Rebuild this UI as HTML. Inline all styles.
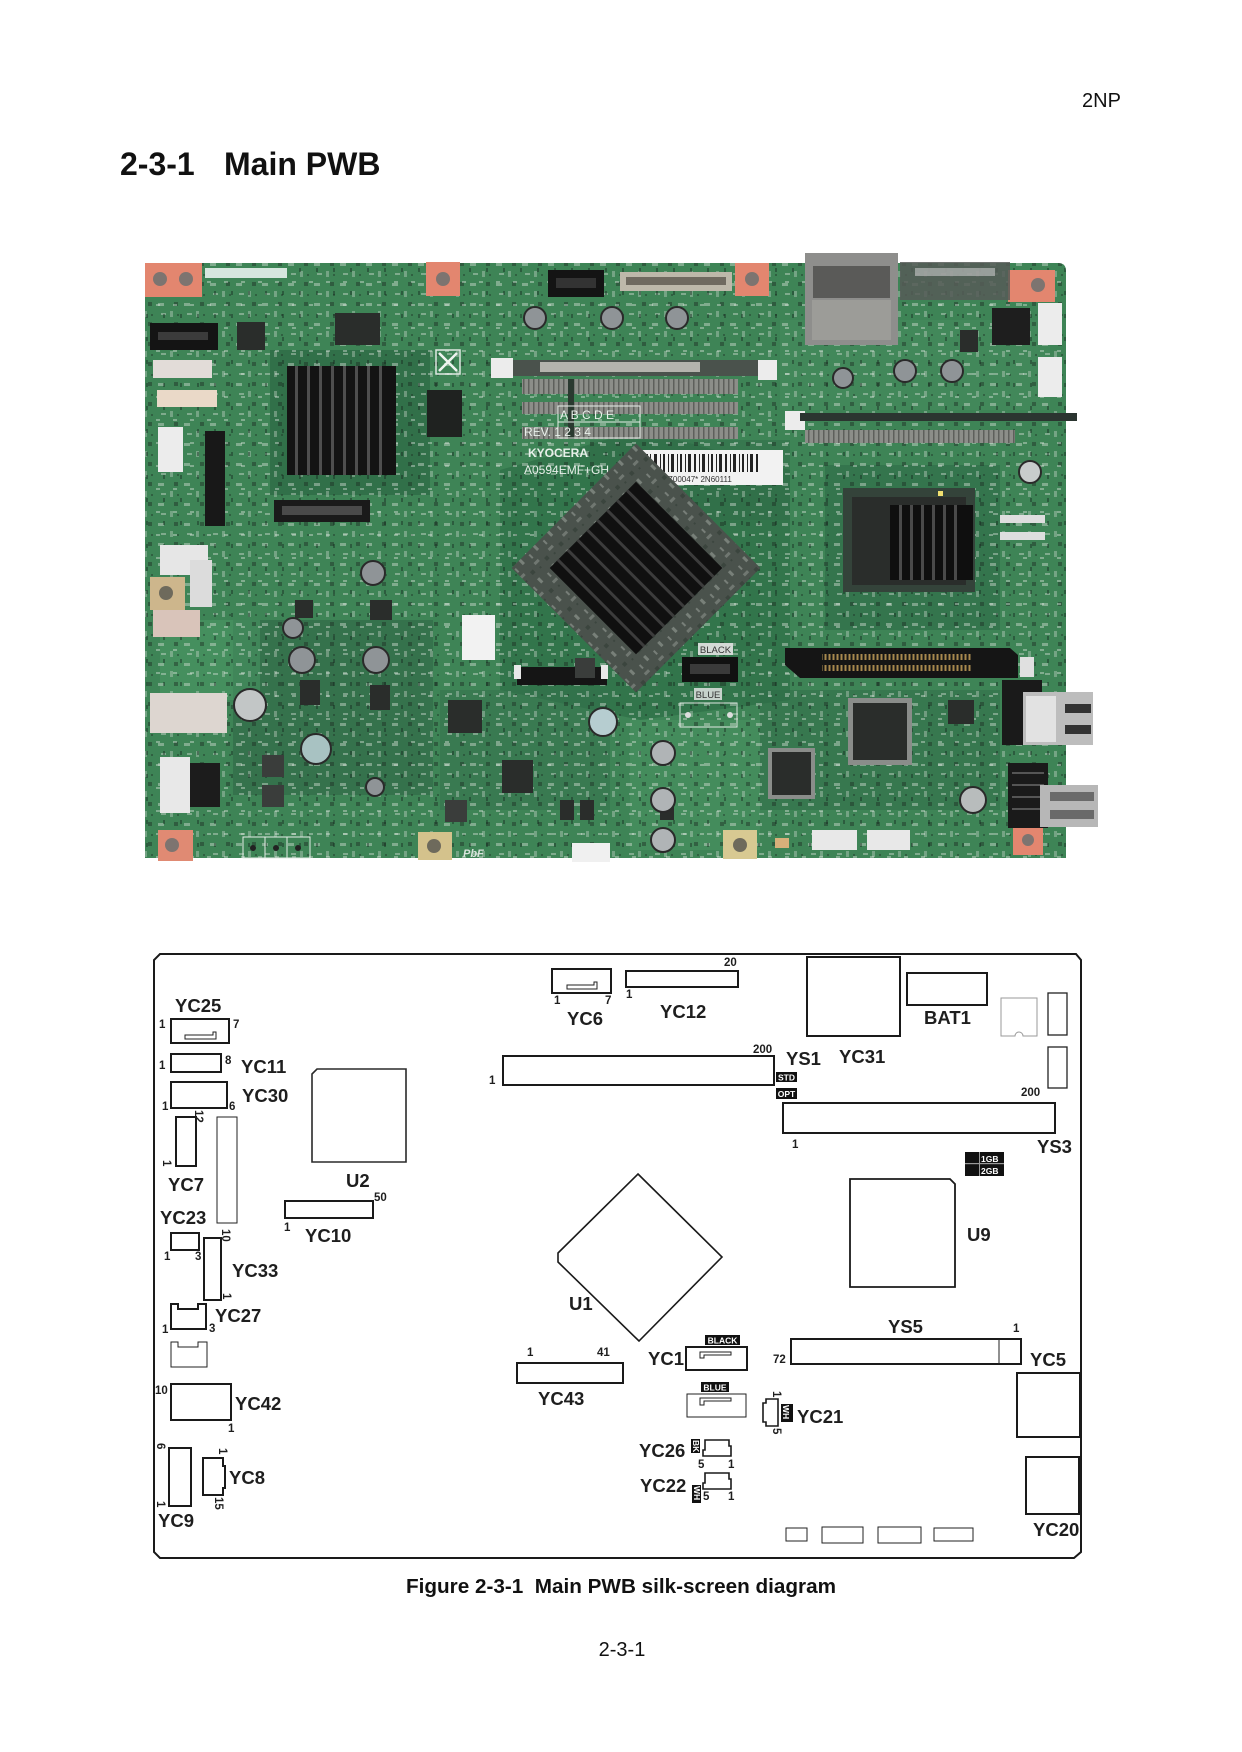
<!DOCTYPE html>
<html><head><meta charset="utf-8"><title>2-3-1 Main PWB</title>
<style>
html,body{margin:0;padding:0;background:#fff;}
body{width:1242px;height:1752px;overflow:hidden;}
svg{display:block;}
</style></head>
<body>
<svg width="1242" height="1752" viewBox="0 0 1242 1752" xmlns="http://www.w3.org/2000/svg" font-family="'Liberation Sans', Arial, Helvetica, sans-serif">
<style>
.L{font-size:18.5px;font-weight:bold;fill:#1e1e1e}
.n{font-size:11.5px;font-weight:bold;fill:#1e1e1e}
.k{fill:none;stroke:#1a1a1a;stroke-width:2}
.t{fill:none;stroke:#222;stroke-width:1}
.bw{font-size:8.5px;font-weight:bold;fill:#fff}
.silk{font-size:12px;fill:#e8f0ea}
</style>
<defs>
<pattern id="smd" width="26" height="20" patternUnits="userSpaceOnUse">
 <rect x="2" y="3" width="6" height="3" fill="#d5ddd5" opacity=".55"/>
 <rect x="14" y="11" width="3" height="6" fill="#d5ddd5" opacity=".45"/>
 <rect x="18" y="2" width="4" height="4" fill="#1b2a21" opacity=".55"/>
 <rect x="5" y="13" width="5" height="2" fill="#e0e6e0" opacity=".5"/>
 <rect x="21" y="14" width="2" height="2" fill="#1b2a21" opacity=".5"/>
</pattern>
<pattern id="smd2" width="17" height="23" patternUnits="userSpaceOnUse">
 <rect x="3" y="5" width="4" height="2" fill="#e6ece6" opacity=".5"/>
 <rect x="10" y="15" width="2" height="4" fill="#12201a" opacity=".5"/>
</pattern>
<pattern id="pins" width="4" height="6" patternUnits="userSpaceOnUse">
 <rect x="0.5" y="0" width="2" height="6" fill="#a8894e"/>
</pattern>
<pattern id="dimm" width="5" height="12" patternUnits="userSpaceOnUse">
 <rect width="5" height="12" fill="#8c8e89"/>
 <rect x="3" width="1.5" height="12" fill="#5e605c"/>
</pattern>
</defs>

<!-- Header -->
<text x="1082" y="107" font-size="20" fill="#111">2NP</text>
<text x="120" y="175" font-size="32" font-weight="bold" fill="#111">2-3-1</text>
<text x="224" y="175" font-size="32" font-weight="bold" fill="#111">Main PWB</text>

<!-- ================= PHOTO ================= -->
<g id="photo">
 <path d="M145,263 H1058 Q1066,263 1066,271 V858 H145 Z" fill="#3e8456"/>
 <rect x="270" y="350" width="160" height="145" fill="#2c6844" opacity=".7"/>
 <polygon points="500,470 640,430 790,470 790,700 640,720 500,690" fill="#2c6a45" opacity=".6"/>
 <rect x="825" y="465" width="175" height="165" fill="#2e6a47" opacity=".6"/>
 <rect x="233" y="620" width="200" height="175" fill="#2d6545" opacity=".55"/>
 <rect x="590" y="440" width="200" height="80" fill="#2f6c48" opacity=".5"/>
 <rect x="760" y="690" width="240" height="120" fill="#2f6b48" opacity=".45"/>
 <rect x="440" y="690" width="170" height="120" fill="#326e4b" opacity=".45"/>
 <rect x="160" y="620" width="100" height="80" fill="#4c9a66" opacity=".5"/>
 <rect x="630" y="720" width="130" height="130" fill="#4b9664" opacity=".45"/>
 <rect x="780" y="320" width="270" height="90" fill="#468f5f" opacity=".45"/>
 <path d="M145,263 H1058 Q1066,263 1066,271 V858 H145 Z" fill="url(#smd)" opacity=".8"/>
 <path d="M145,263 H1058 Q1066,263 1066,271 V858 H145 Z" fill="url(#smd2)" opacity=".8"/>

 <g>
  <rect x="145" y="263" width="57" height="34" fill="#e3866f"/>
  <circle cx="160" cy="279" r="7" fill="#7d7470"/><circle cx="186" cy="279" r="7" fill="#7d7470"/>
  <rect x="426" y="262" width="34" height="34" fill="#e3866f"/><circle cx="443" cy="279" r="7" fill="#7d7470"/>
  <rect x="735" y="263" width="34" height="33" fill="#e3866f"/><circle cx="752" cy="279" r="7" fill="#7d7470"/>
  <rect x="1008" y="270" width="47" height="32" fill="#e3866f"/><circle cx="1038" cy="285" r="7" fill="#7d7470"/>
  <rect x="150" y="577" width="35" height="33" fill="#cdb68c"/><circle cx="166" cy="593" r="7" fill="#6e6a5c"/>
  <rect x="158" y="830" width="35" height="31" fill="#e08a73"/><circle cx="172" cy="845" r="7" fill="#7d7470"/>
  <rect x="418" y="832" width="34" height="28" fill="#d4c28c"/><circle cx="434" cy="846" r="7" fill="#6e6a5c"/>
  <rect x="723" y="830" width="34" height="29" fill="#d8c992"/><circle cx="740" cy="845" r="7" fill="#6e6a5c"/>
  <rect x="1013" y="825" width="30" height="30" fill="#e3866f"/><circle cx="1028" cy="840" r="6" fill="#7d7470"/>
 </g>

 <rect x="205" y="268" width="82" height="10" fill="#d6e6de"/>
 <rect x="548" y="270" width="56" height="27" fill="#141414"/><rect x="556" y="278" width="40" height="10" fill="#333"/>
 <rect x="620" y="272" width="112" height="19" fill="#bdb8aa"/><rect x="626" y="277" width="100" height="8" fill="#6f6a60"/>
 <rect x="805" y="253" width="93" height="92" fill="#8e8e8c"/>
 <rect x="813" y="266" width="77" height="32" fill="#5a5a58"/>
 <rect x="812" y="300" width="79" height="40" fill="#9c9c98"/>
 <rect x="900" y="262" width="110" height="38" fill="#565a57" opacity=".85"/>
 <rect x="915" y="268" width="80" height="8" fill="#c8c8c8" opacity=".6"/>
 <rect x="1038" y="303" width="24" height="42" fill="#ececec"/>
 <rect x="1038" y="357" width="24" height="40" fill="#ececec"/>
 <rect x="992" y="308" width="38" height="37" fill="#1e1e1e"/>
 <rect x="150" y="323" width="68" height="27" fill="#141414"/><rect x="158" y="332" width="50" height="8" fill="#3b3b3b"/>
 <rect x="153" y="360" width="59" height="18" fill="#e2dcd8"/>
 <rect x="157" y="390" width="60" height="17" fill="#ead9c8"/>
 <rect x="158" y="427" width="25" height="45" fill="#ececec"/>
 <rect x="205" y="431" width="20" height="95" fill="#181818"/>
 <rect x="160" y="545" width="48" height="30" fill="#e6e6e6"/>
 <rect x="190" y="560" width="22" height="47" fill="#dcdcdc"/>
 <rect x="153" y="610" width="47" height="27" fill="#d9c4ba"/>
 <rect x="150" y="693" width="77" height="40" fill="#ddd6d0"/>
 <rect x="160" y="757" width="30" height="56" fill="#e8e8e8"/>
 <rect x="190" y="763" width="30" height="44" fill="#1c1c1c"/>
 <rect x="287" y="366" width="109" height="109" fill="#131313"/>
 <g fill="#4e4e4e">
  <rect x="295" y="366" width="3" height="109"/><rect x="307" y="366" width="3" height="109"/>
  <rect x="319" y="366" width="3" height="109"/><rect x="331" y="366" width="3" height="109"/>
  <rect x="343" y="366" width="3" height="109"/><rect x="355" y="366" width="3" height="109"/>
  <rect x="367" y="366" width="3" height="109"/><rect x="379" y="366" width="3" height="109"/>
 </g>
 <rect x="274" y="500" width="96" height="22" fill="#1a1a1a"/><rect x="282" y="506" width="80" height="9" fill="#4a4a4a"/>
 <rect x="335" y="313" width="45" height="32" fill="#2a2d2b"/>
 <rect x="427" y="390" width="35" height="47" fill="#1f2220"/>
 <rect x="237" y="322" width="28" height="28" fill="#2a2d2b"/>
 <rect x="448" y="700" width="34" height="33" fill="#2a2d2b"/>
 <rect x="502" y="760" width="31" height="33" fill="#2a2d2b"/>
 <rect x="848" y="698" width="64" height="67" fill="#8a8d8a"/><rect x="853" y="703" width="54" height="57" fill="#2a2d2b"/>
 <rect x="768" y="748" width="47" height="51" fill="#8a8d8a"/><rect x="772" y="752" width="39" height="43" fill="#2a2d2b"/>
 <rect x="948" y="700" width="26" height="24" fill="#2a2d2b"/>
 <rect x="295" y="600" width="18" height="18" fill="#2a2d2b"/>
 <rect x="370" y="600" width="22" height="20" fill="#2a2d2b"/>
 <rect x="300" y="680" width="20" height="25" fill="#2a2d2b"/>
 <rect x="370" y="685" width="20" height="25" fill="#2a2d2b"/>
 <rect x="560" y="800" width="14" height="20" fill="#2a2d2b"/>
 <rect x="580" y="800" width="14" height="20" fill="#2a2d2b"/>
 <rect x="660" y="800" width="14" height="20" fill="#2a2d2b"/>
 <rect x="960" y="330" width="18" height="22" fill="#2a2d2b"/>
 <rect x="491" y="358" width="22" height="20" fill="#ececec"/>
 <rect x="513" y="360" width="245" height="16" fill="#4a524c"/>
 <rect x="540" y="362" width="160" height="10" fill="#b4b4ad"/>
 <rect x="758" y="360" width="19" height="20" fill="#ececec"/>
 <rect x="522" y="379" width="216" height="15" fill="url(#dimm)"/>
 <rect x="522" y="402" width="216" height="12" fill="url(#dimm)"/>
 <rect x="522" y="427" width="216" height="12" fill="url(#dimm)"/>
 <rect x="568" y="379" width="6" height="60" fill="#2a3a30"/>
 <rect x="785" y="411" width="20" height="19" fill="#ececec"/>
 <rect x="800" y="413" width="277" height="8" fill="#2b3530"/>
 <rect x="805" y="430" width="210" height="13" fill="url(#dimm)"/>
 <g fill="none" stroke="#e6eee8" stroke-width="1">
  <rect x="558" y="406" width="82" height="16"/><rect x="558" y="422" width="82" height="16"/>
 </g>
 <text x="560" y="419" class="silk" font-size="12">A B C D E</text>
 <text x="524" y="436" class="silk">REV. 1 2 3 4</text>
 <text x="528" y="457" class="silk" font-weight="bold">KYOCERA</text>
 <text x="524" y="474" class="silk">A0594EMF+GH</text>
 <rect x="637" y="450" width="146" height="35" fill="#f2f2f2"/>
 <g fill="#222">
  <rect x="646" y="454" width="2" height="18"/><rect x="650" y="454" width="1" height="18"/><rect x="654" y="454" width="3" height="18"/>
  <rect x="660" y="454" width="1" height="18"/><rect x="663" y="454" width="2" height="18"/><rect x="668" y="454" width="1" height="18"/>
  <rect x="671" y="454" width="3" height="18"/><rect x="677" y="454" width="1" height="18"/><rect x="680" y="454" width="2" height="18"/>
  <rect x="685" y="454" width="1" height="18"/><rect x="688" y="454" width="3" height="18"/><rect x="694" y="454" width="2" height="18"/>
  <rect x="699" y="454" width="1" height="18"/><rect x="702" y="454" width="3" height="18"/><rect x="708" y="454" width="1" height="18"/>
  <rect x="711" y="454" width="2" height="18"/><rect x="716" y="454" width="1" height="18"/><rect x="719" y="454" width="3" height="18"/>
  <rect x="725" y="454" width="2" height="18"/><rect x="730" y="454" width="1" height="18"/><rect x="733" y="454" width="3" height="18"/>
  <rect x="739" y="454" width="1" height="18"/><rect x="742" y="454" width="2" height="18"/><rect x="747" y="454" width="1" height="18"/>
  <rect x="750" y="454" width="3" height="18"/><rect x="756" y="454" width="2" height="18"/>
 </g>
 <text x="640" y="482" font-size="8" fill="#333">*MJV00Z00047* 2N60111</text>
 <g transform="rotate(45 636 568)">
  <rect x="548" y="480" width="176" height="176" fill="#4a524c"/>
  <rect x="548" y="480" width="176" height="176" fill="url(#smd)" opacity=".6"/>
  <rect x="575" y="507" width="122" height="122" fill="#101010"/>
  <g fill="#3c3c3c">
   <rect x="575" y="518" width="122" height="3"/><rect x="575" y="532" width="122" height="3"/>
   <rect x="575" y="546" width="122" height="3"/><rect x="575" y="560" width="122" height="3"/>
   <rect x="575" y="574" width="122" height="3"/><rect x="575" y="588" width="122" height="3"/>
   <rect x="575" y="602" width="122" height="3"/><rect x="575" y="616" width="122" height="3"/>
  </g>
 </g>
 <rect x="843" y="488" width="132" height="104" fill="#34433a"/>
 <rect x="852" y="497" width="114" height="88" fill="#2a2d2b"/>
 <rect x="890" y="505" width="83" height="75" fill="#0f0f0f"/>
 <g fill="#4a4a4a">
  <rect x="899" y="505" width="3" height="75"/><rect x="910" y="505" width="3" height="75"/>
  <rect x="921" y="505" width="3" height="75"/><rect x="932" y="505" width="3" height="75"/>
  <rect x="943" y="505" width="3" height="75"/><rect x="954" y="505" width="3" height="75"/>
 </g>
 <rect x="938" y="491" width="5" height="5" fill="#f0e070"/>
 <rect x="1000" y="515" width="45" height="8" fill="#dedede"/>
 <rect x="1000" y="532" width="45" height="8" fill="#dedede"/>
 <rect x="462" y="615" width="33" height="45" fill="#f2f2f2"/>
 <rect x="517" y="667" width="90" height="18" fill="#151515"/>
 <rect x="514" y="665" width="7" height="14" fill="#e8e8e8"/><rect x="601" y="665" width="7" height="14" fill="#e8e8e8"/>
 <rect x="698" y="643" width="35" height="12" fill="#d4dad6"/>
 <text x="715.5" y="653" font-size="9.5" text-anchor="middle" fill="#333">BLACK</text>
 <rect x="682" y="657" width="56" height="25" fill="#111"/><rect x="690" y="664" width="40" height="10" fill="#3a3a3a"/>
 <rect x="694" y="688" width="28" height="12" fill="#c6d2cb"/>
 <text x="708" y="698" font-size="9.5" text-anchor="middle" fill="#333">BLUE</text>
 <rect x="680" y="703" width="57" height="24" fill="none" stroke="#dfe8e2" stroke-width="1"/>
 <circle cx="688" cy="715" r="3" fill="#ddd"/><circle cx="730" cy="715" r="3" fill="#ddd"/>
 <polygon points="785,648 1010,648 1018,655 1018,678 800,678 785,665" fill="#151515"/>
 <rect x="822" y="654" width="150" height="6" fill="url(#pins)"/>
 <rect x="822" y="665" width="150" height="6" fill="url(#pins)"/>
 <rect x="1020" y="657" width="14" height="20" fill="#e0e0e0"/>
 <rect x="1002" y="680" width="40" height="65" fill="#1a1a1a"/>
 <rect x="1023" y="692" width="70" height="53" fill="#bdbdbd"/>
 <rect x="1026" y="696" width="30" height="46" fill="#e2e2e2"/>
 <rect x="1065" y="704" width="26" height="9" fill="#333"/><rect x="1065" y="725" width="26" height="9" fill="#333"/>
 <rect x="1008" y="763" width="40" height="65" fill="#1a1a1a"/>
 <g fill="#555"><rect x="1012" y="772" width="32" height="2"/><rect x="1012" y="784" width="32" height="2"/><rect x="1012" y="796" width="32" height="2"/><rect x="1012" y="808" width="32" height="2"/></g>
 <rect x="1040" y="785" width="58" height="42" fill="#b7b7b7"/>
 <rect x="1050" y="792" width="44" height="9" fill="#6a6a6a"/><rect x="1050" y="810" width="44" height="9" fill="#6a6a6a"/>
 <g stroke="#2a2a2a" stroke-width="2">
  <circle cx="535" cy="318" r="11" fill="#8f9497"/><circle cx="612" cy="318" r="11" fill="#8f9497"/><circle cx="677" cy="318" r="11" fill="#8f9497"/>
  <circle cx="843" cy="378" r="10" fill="#8f9497"/><circle cx="905" cy="371" r="11" fill="#8f9497"/><circle cx="952" cy="371" r="11" fill="#8f9497"/>
  <circle cx="1030" cy="472" r="11" fill="#c8cccc"/>
  <circle cx="373" cy="573" r="12" fill="#8f9497"/><circle cx="293" cy="628" r="10" fill="#8f9497"/>
  <circle cx="302" cy="660" r="13" fill="#8f9497"/><circle cx="376" cy="660" r="13" fill="#8f9497"/>
  <circle cx="250" cy="705" r="16" fill="#c2c6c6"/><circle cx="316" cy="749" r="15" fill="#a8c2c2"/>
  <circle cx="375" cy="787" r="9" fill="#8f9497"/><circle cx="603" cy="722" r="14" fill="#b6cdd0"/>
  <circle cx="663" cy="753" r="12" fill="#b0b4b6"/><circle cx="663" cy="800" r="12" fill="#b0b4b6"/><circle cx="663" cy="840" r="12" fill="#b0b4b6"/>
  <circle cx="973" cy="800" r="13" fill="#b8bcbc"/>
 </g>
 <g fill="#3a3d3b"><rect x="262" y="755" width="22" height="22"/><rect x="262" y="785" width="22" height="22"/><rect x="445" y="800" width="22" height="22"/><rect x="575" y="658" width="20" height="20"/></g>
 <rect x="812" y="830" width="45" height="20" fill="#e8e8e8"/>
 <rect x="867" y="830" width="43" height="20" fill="#e8e8e8"/>
 <rect x="572" y="843" width="38" height="19" fill="#f0f0f0"/>
 <rect x="775" y="838" width="14" height="10" fill="#d8b07a"/>
 <g fill="none" stroke="#e4ece6" stroke-width="1"><rect x="243" y="837" width="22" height="21"/><rect x="265" y="837" width="22" height="21"/><rect x="287" y="837" width="23" height="21"/></g>
 <circle cx="253" cy="848" r="3" fill="#222"/><circle cx="276" cy="848" r="3" fill="#222"/><circle cx="298" cy="848" r="3" fill="#222"/>
 <text x="463" y="857" font-size="11" font-style="italic" font-weight="bold" fill="#d8e4dc">PbF</text>
 <rect x="436" y="350" width="24" height="24" fill="none" stroke="#dfe8e2" stroke-width="1.5"/>
 <path d="M439,353 L457,371 M457,353 L439,371" stroke="#eef3ef" stroke-width="2.5"/>
</g>

<!-- ================= DIAGRAM ================= -->
<path d="M160,954 H1076 L1081,960 V1552 L1074,1558 H160 L154,1552 V960 Z" fill="none" stroke="#1a1a1a" stroke-width="2"/>

<text class="L" x="175" y="1012">YC25</text>
<rect class="k" x="171" y="1019" width="58" height="24"/>
<polygon class="t" points="185,1035 213,1035 213,1032 216,1032 216,1039 185,1039"/>
<text class="n" x="159" y="1028">1</text><text class="n" x="233" y="1028">7</text>

<rect class="k" x="171" y="1054" width="50" height="18"/>
<text class="n" x="159" y="1069">1</text><text class="n" x="225" y="1064">8</text>
<text class="L" x="241" y="1073">YC11</text>

<rect class="k" x="171" y="1082" width="56" height="26"/>
<text class="n" x="162" y="1110">1</text><text class="n" x="229" y="1110">6</text>
<text class="L" x="242" y="1102">YC30</text>

<text class="n" transform="translate(195,1110) rotate(90)">12</text>
<rect class="k" x="176" y="1117" width="20" height="49"/>
<text class="n" transform="translate(163,1160) rotate(90)">1</text>
<text class="L" x="168" y="1191">YC7</text>
<rect class="t" x="217" y="1117" width="20" height="106"/>

<text class="L" x="160" y="1224">YC23</text>
<rect class="k" x="171" y="1233" width="28" height="17"/>
<text class="n" x="164" y="1260">1</text><text class="n" x="195" y="1260">3</text>

<rect class="k" x="204" y="1238" width="17" height="62"/>
<text class="n" transform="translate(222,1229) rotate(90)">10</text>
<text class="n" transform="translate(223,1293) rotate(90)">1</text>
<text class="L" x="232" y="1277">YC33</text>

<polygon class="k" points="171,1304 178,1304 178,1309 198,1309 198,1304 206,1304 206,1329 171,1329"/>
<text class="n" x="162" y="1333">1</text><text class="n" x="209" y="1332">3</text>
<text class="L" x="215" y="1322">YC27</text>
<polygon class="t" points="171,1342 178,1342 178,1347 198,1347 198,1342 207,1342 207,1367 171,1367"/>

<rect class="k" x="171" y="1384" width="60" height="36"/>
<text class="n" x="155" y="1394">10</text><text class="n" x="228" y="1432">1</text>
<text class="L" x="235" y="1410">YC42</text>

<rect class="k" x="169" y="1448" width="22" height="58"/>
<text class="n" transform="translate(157,1443) rotate(90)">6</text>
<text class="n" transform="translate(157,1501) rotate(90)">1</text>
<text class="L" x="158" y="1527">YC9</text>

<polygon class="k" points="203,1458 223,1458 223,1466 225,1466 225,1488 223,1488 223,1495 203,1495"/>
<text class="n" transform="translate(219,1448) rotate(90)">1</text>
<text class="n" transform="translate(215,1497) rotate(90)">15</text>
<text class="L" x="229" y="1484">YC8</text>

<polygon points="317,1069 406,1069 406,1162 312,1162 312,1074" fill="none" stroke="#2a2a2a" stroke-width="1.6"/>
<text class="L" x="346" y="1187">U2</text>
<text class="n" x="374" y="1201">50</text>
<rect class="k" x="285" y="1201" width="88" height="17"/>
<text class="n" x="284" y="1231">1</text>
<text class="L" x="305" y="1242">YC10</text>

<rect class="k" x="552" y="969" width="59" height="24"/>
<polygon class="t" points="567,985 594,985 594,982 597,982 597,989 567,989"/>
<text class="n" x="554" y="1004">1</text><text class="n" x="605" y="1004">7</text>
<text class="L" x="567" y="1025">YC6</text>

<text class="n" x="724" y="966">20</text>
<rect class="k" x="626" y="971" width="112" height="16"/>
<text class="n" x="626" y="998">1</text>
<text class="L" x="660" y="1018">YC12</text>

<rect class="k" x="807" y="957" width="93" height="79"/>
<text class="L" x="839" y="1063">YC31</text>

<rect class="k" x="907" y="973" width="80" height="32"/>
<text class="L" x="924" y="1024">BAT1</text>

<path d="M1001,998 H1037 V1036 H1023 A4,4 0 0 0 1015,1036 H1001 Z" fill="none" stroke="#9a9a9a" stroke-width="1"/>
<rect x="1048" y="993" width="19" height="42" fill="none" stroke="#222" stroke-width="1.3"/>
<rect x="1048" y="1047" width="19" height="41" fill="none" stroke="#222" stroke-width="1.3"/>

<rect class="k" x="503" y="1056" width="271" height="29"/>
<text class="n" x="489" y="1084">1</text>
<text class="n" x="753" y="1053">200</text>
<text class="L" x="786" y="1065">YS1</text>
<rect x="776" y="1072" width="21" height="10" fill="#111"/>
<text class="bw" x="786.5" y="1080.5" text-anchor="middle" font-size="8">STD</text>
<rect x="776" y="1088" width="21" height="11" fill="#111"/>
<text class="bw" x="786.5" y="1097" text-anchor="middle" font-size="8">OPT</text>

<text class="n" x="1021" y="1096">200</text>
<rect class="k" x="783" y="1103" width="272" height="30"/>
<text class="n" x="792" y="1148">1</text>
<text class="L" x="1037" y="1153">YS3</text>

<rect x="965" y="1152" width="39" height="24" fill="#111"/>
<rect x="965" y="1163" width="39" height="1.2" fill="#9a9a9a"/>
<rect x="979" y="1152" width="1" height="24" fill="#9a9a9a"/>
<text class="bw" x="981" y="1162" font-size="10">1GB</text>
<text class="bw" x="981" y="1174" font-size="10">2GB</text>

<polygon points="850,1179 950,1179 955,1184 955,1287 850,1287" fill="none" stroke="#1a1a1a" stroke-width="1.8"/>
<text class="L" x="967" y="1241">U9</text>

<polygon points="638,1174 722,1257 639,1341 558,1262 558,1253" fill="none" stroke="#1a1a1a" stroke-width="1.6"/>
<text class="L" x="569" y="1310">U1</text>

<text class="n" x="527" y="1356">1</text><text class="n" x="597" y="1356">41</text>
<rect class="k" x="517" y="1363" width="106" height="20"/>
<text class="L" x="538" y="1405">YC43</text>

<rect x="705" y="1335" width="35" height="10" fill="#111"/>
<text class="bw" x="722.5" y="1343.3" text-anchor="middle">BLACK</text>
<rect class="k" x="686" y="1347" width="61" height="23"/>
<polygon class="t" points="700,1352 731,1352 731,1355 704,1355 704,1358 700,1358"/>
<text class="L" x="648" y="1365">YC1</text>

<rect x="701" y="1382" width="28" height="10" fill="#111"/>
<text class="bw" x="715" y="1390.3" text-anchor="middle">BLUE</text>
<rect class="t" x="687" y="1394" width="59" height="23"/>
<polygon class="t" points="700,1398 731,1398 731,1401 704,1401 704,1405 700,1405"/>

<text class="n" transform="translate(773,1391) rotate(90)">1</text>
<polygon points="766,1399 778,1399 778,1426 766,1426 766,1422 763,1422 763,1403 766,1403" fill="none" stroke="#1a1a1a" stroke-width="1.6"/>
<text class="n" transform="translate(773,1428) rotate(90)">5</text>
<rect x="781" y="1404" width="12" height="18" fill="#111"/>
<text class="bw" transform="translate(783,1405) rotate(90)" font-size="8">WH</text>
<text class="L" x="797" y="1423">YC21</text>

<text class="L" x="639" y="1457">YC26</text>
<rect x="691" y="1439" width="9" height="14" fill="#111"/>
<text class="bw" transform="translate(693,1440) rotate(90)" font-size="7">BK</text>
<polygon points="705,1440 729,1440 729,1446 731,1446 731,1456 703,1456 703,1450 705,1450" fill="none" stroke="#1a1a1a" stroke-width="1.6"/>
<text class="n" x="698" y="1468">5</text><text class="n" x="728" y="1468">1</text>

<text class="L" x="640" y="1492">YC22</text>
<polygon points="705,1473 729,1473 729,1479 731,1479 731,1489 703,1489 703,1483 705,1483" fill="none" stroke="#1a1a1a" stroke-width="1.6"/>
<rect x="692" y="1485" width="9" height="18" fill="#111"/>
<text class="bw" transform="translate(694,1486) rotate(90)" font-size="7">WH</text>
<text class="n" x="703" y="1500">5</text><text class="n" x="728" y="1500">1</text>

<text class="L" x="888" y="1333">YS5</text>
<text class="n" x="1013" y="1332">1</text>
<text class="n" x="773" y="1363">72</text>
<rect class="k" x="791" y="1339" width="230" height="25"/>
<line x1="999" y1="1339" x2="999" y2="1364" stroke="#222" stroke-width="1"/>

<text class="L" x="1030" y="1366">YC5</text>
<rect class="k" x="1017" y="1373" width="63" height="64"/>
<rect class="k" x="1026" y="1457" width="53" height="57"/>
<text class="L" x="1033" y="1536">YC20</text>

<rect class="t" x="786" y="1528" width="21" height="13"/>
<rect class="t" x="822" y="1527" width="41" height="16"/>
<rect class="t" x="878" y="1527" width="43" height="16"/>
<rect class="t" x="934" y="1528" width="39" height="13"/>

<text x="621" y="1593" font-size="20.7" font-weight="bold" text-anchor="middle" fill="#111" xml:space="preserve">Figure 2-3-1  Main PWB silk-screen diagram</text>
<text x="622" y="1656" font-size="20" text-anchor="middle" fill="#111">2-3-1</text>
</svg>
</body></html>
